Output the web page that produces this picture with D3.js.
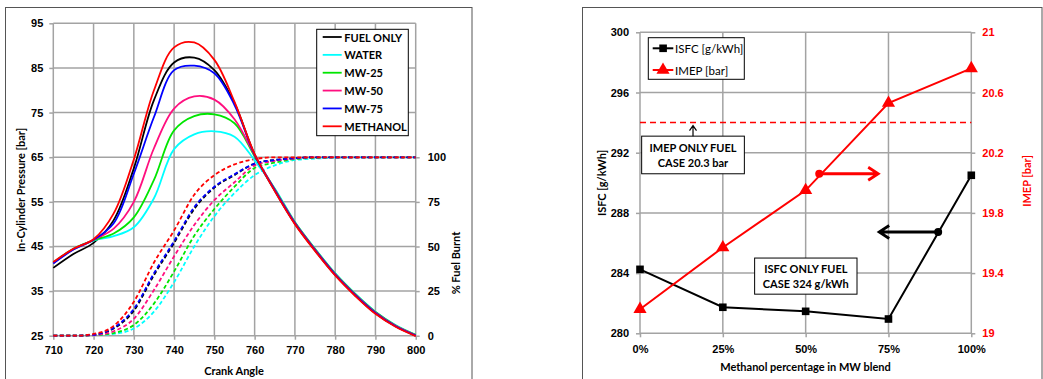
<!DOCTYPE html>
<html>
<head>
<meta charset="utf-8">
<script src="https://cdn.jsdelivr.net/npm/d3@7"></script>
<style>
  html, body { margin: 0; padding: 0; background: #fff; }
  svg { display: block; font-family: Lato, "Open Sans", sans-serif; }
  .tick text { font-size: 11px; font-weight: bold; }
</style>
</head>
<body>
<svg id="chart" width="1043" height="379"></svg>
<script>
// ---- Left chart data: pressure and burn fraction vs crank angle ----
const crankAngles = [710, 715, 720, 725, 730, 735, 740, 745, 750, 755, 760, 765, 770, 775, 780, 785, 790, 795, 800];

const pressureFuelOnly = [40.2, 43.3, 45.8, 50.9, 62.5, 77.8, 86.2, 87.3, 84.5, 77.1, 65.6, 57.5, 50.1, 44.1, 38.6, 34.0, 30.0, 27.1, 25.0];
const pressureWater    = [41.3, 44.4, 46.3, 47.3, 49.3, 55.8, 66.8, 70.1, 70.8, 69.6, 64.3, 58.0, 50.5, 44.5, 39.0, 34.4, 30.4, 27.4, 25.2];
const pressureMW25     = [41.4, 44.5, 46.4, 47.9, 51.5, 59.9, 71.0, 74.2, 74.6, 72.6, 65.2, 57.8, 50.4, 44.4, 38.9, 34.3, 30.3, 27.3, 25.2];
const pressureMW50     = [41.3, 44.4, 46.5, 49.0, 55.0, 67.0, 75.9, 78.6, 77.9, 73.5, 65.5, 57.7, 50.3, 44.3, 38.8, 34.2, 30.2, 27.2, 25.1];
const pressureMW75     = [41.2, 44.3, 46.5, 50.2, 61.3, 74.0, 84.5, 85.5, 83.8, 76.7, 65.5, 57.6, 50.2, 44.2, 38.7, 34.1, 30.1, 27.1, 25.0];
const pressureMethanol = [41.5, 44.5, 46.6, 52.4, 64.5, 80.0, 89.6, 90.7, 86.8, 77.4, 65.7, 57.4, 50.0, 44.0, 38.5, 33.9, 29.9, 27.0, 24.9];

const burnFuelOnly = [0, 0, 0.5, 4, 14, 34, 52, 71, 83, 90, 96.5, 98.5, 99.5, 100, 100, 100, 100, 100, 100];
const burnWater    = [0, 0, 0.3, 1, 4, 13.5, 30, 50, 67, 80, 90, 95.5, 98.5, 99.3, 99.7, 100, 100, 100, 100];
const burnMW25     = [0, 0, 0.3, 1.5, 6, 18, 36, 56, 71, 83.5, 94, 97, 99, 99.7, 100, 100, 100, 100, 100];
const burnMW50     = [0, 0, 0.3, 2.5, 9.5, 25.6, 44.5, 62, 76, 86, 95.5, 98, 99.3, 100, 100, 100, 100, 100, 100];
const burnMW75     = [0, 0, 0.5, 4.5, 15, 35, 53, 72, 83.5, 90.5, 96.5, 98.5, 99.5, 100, 100, 100, 100, 100, 100];
const burnMethanol = [0, 0, 1, 5.5, 19, 41, 59, 79, 90, 96, 99, 100, 100, 100, 100, 100, 100, 100, 100];

const seriesNames  = ["FUEL ONLY", "WATER", "MW-25", "MW-50", "MW-75", "METHANOL"];
const seriesColors = ["#000000", "#00ffff", "#00e600", "#ff0f7f", "#0000ff", "#ff0000"];
const pressureSeries = [pressureFuelOnly, pressureWater, pressureMW25, pressureMW50, pressureMW75, pressureMethanol];
const burnSeries     = [burnFuelOnly, burnWater, burnMW25, burnMW50, burnMW75, burnMethanol];

const crankTicks    = [710, 720, 730, 740, 750, 760, 770, 780, 790, 800];
const pressureTicks = [25, 35, 45, 55, 65, 75, 85, 95];
const burnTicks     = [0, 25, 50, 75, 100];

// ---- Right chart data: ISFC / IMEP vs methanol share ----
const blendPercent = [0, 25, 50, 75, 100];
const isfcValues   = [284.25, 281.73, 281.46, 280.95, 290.5];
const imepValues   = [19.16, 19.57, 19.95, 20.53, 20.76];
const imepFuelOnlyLine = 20.4;
const isfcTicks = [280, 284, 288, 292, 296, 300];
const imepTicks = [19, 19.4, 19.8, 20.2, 20.6, 21];

const svg = d3.select("#chart");
const gridColor = "#a3a3a3";

function DrawGrid(g, x, y, xTicks, yTicks) {
    g.selectAll("line.vg").data(xTicks).join("line")
        .attr("x1", d => x(d)).attr("x2", d => x(d))
        .attr("y1", y.range()[1]).attr("y2", y.range()[0])
        .attr("stroke", gridColor).attr("stroke-width", 1.5);
    g.selectAll("line.hg").data(yTicks).join("line")
        .attr("x1", x.range()[0]).attr("x2", x.range()[1])
        .attr("y1", d => y(d)).attr("y2", d => y(d))
        .attr("stroke", gridColor).attr("stroke-width", 1.5);
}

function StyleAxis(g, color) {
    g.select(".domain").remove();
    g.selectAll(".tick line").attr("stroke", gridColor).attr("stroke-width", 1.5);
    g.selectAll(".tick text").attr("fill", color || "#000");
}

function AxisTitle(x, y, text, rotate, color, size) {
    svg.append("text")
        .attr("transform", `translate(${x},${y})` + (rotate ? " rotate(-90)" : ""))
        .attr("text-anchor", "middle").attr("dominant-baseline", "central")
        .attr("font-size", size || 11).attr("font-weight", "bold")
        .attr("fill", color || "#000").text(text);
}

// ================= Left chart =================
function DrawLeft() {
    svg.append("rect").attr("x", 5.5).attr("y", 7.5).attr("width", 466.5).attr("height", 380)
        .attr("fill", "none").attr("stroke", "#555");

    const x = d3.scaleLinear().domain([710, 800]).range([53.3, 415.7]);
    const y = d3.scaleLinear().domain([25, 95]).range([335.7, 23.3]);
    const y2 = d3.scaleLinear().domain([0, 100]).range([335.7, 157.3]);

    DrawGrid(svg.append("g"), x, y, crankTicks, pressureTicks);

    StyleAxis(svg.append("g").attr("transform", "translate(53.3,0)")
        .call(d3.axisLeft(y).tickValues(pressureTicks).tickSize(4).tickPadding(6)));
    StyleAxis(svg.append("g").attr("transform", "translate(415.7,0)")
        .call(d3.axisRight(y2).tickValues(burnTicks).tickSize(4).tickPadding(8)));
    StyleAxis(svg.append("g").attr("transform", "translate(0,335.7)")
        .call(d3.axisBottom(x).tickValues(crankTicks).tickSize(4).tickPadding(7)));

    const burnLine = d3.line().x((d, i) => x(crankAngles[i])).y(d => y2(d)).curve(d3.curveMonotoneX);
    const pressLine = d3.line().x((d, i) => x(crankAngles[i])).y(d => y(d)).curve(d3.curveCatmullRom.alpha(0.5));

    // dashed burn fraction curves first, then pressure on top
    svg.append("g").selectAll("path").data(burnSeries).join("path")
        .attr("d", burnLine).attr("fill", "none")
        .attr("stroke", (d, i) => seriesColors[i]).attr("stroke-width", 1.8)
        .attr("stroke-dasharray", "4,2.5");
    svg.append("g").selectAll("path").data(pressureSeries).join("path")
        .attr("d", pressLine).attr("fill", "none")
        .attr("stroke", (d, i) => seriesColors[i]).attr("stroke-width", 1.8);

    AxisTitle(20, 190, "In-Cylinder Pressure [bar]", true);
    AxisTitle(455, 263, "% Fuel Burnt", true);
    AxisTitle(234, 370, "Crank Angle", false);

    // legend
    const lg = svg.append("g");
    lg.append("rect").attr("x", 316.7).attr("y", 29.3).attr("width", 91.6).attr("height", 106.4)
        .attr("fill", "#fff").attr("stroke", "#000").attr("stroke-width", 1);
    const item = lg.selectAll("g").data(seriesNames).join("g")
        .attr("transform", (d, i) => `translate(0,${37 + i * 17.86})`);
    item.append("line").attr("x1", 322.7).attr("x2", 341.7)
        .attr("stroke", (d, i) => seriesColors[i]).attr("stroke-width", 1.8);
    item.append("text").attr("x", 344.3).attr("dominant-baseline", "central")
        .attr("font-size", 11).attr("font-weight", "bold").text(d => d);
}

// ================= Right chart =================
function DrawRight() {
    svg.append("rect").attr("x", 582.5).attr("y", 7.5).attr("width", 459.5).attr("height", 380)
        .attr("fill", "none").attr("stroke", "#555");

    const x = d3.scaleLinear().domain([0, 100]).range([640, 971.3]);
    const y = d3.scaleLinear().domain([280, 300]).range([333.3, 32.3]);
    const y2 = d3.scaleLinear().domain([19, 21]).range([333.3, 32.3]);

    DrawGrid(svg.append("g"), x, y, blendPercent, isfcTicks);

    StyleAxis(svg.append("g").attr("transform", "translate(640,0)")
        .call(d3.axisLeft(y).tickValues(isfcTicks).tickSize(4).tickPadding(7)));
    StyleAxis(svg.append("g").attr("transform", "translate(971.3,0)")
        .call(d3.axisRight(y2).tickValues(imepTicks).tickFormat(d => String(+d.toFixed(1)))
            .tickSize(4).tickPadding(7)), "#ff0000");
    StyleAxis(svg.append("g").attr("transform", "translate(0,333.3)")
        .call(d3.axisBottom(x).tickValues(blendPercent).tickFormat(d => d + "%").tickSize(4).tickPadding(8)));

    // reference line for fuel-only IMEP
    svg.append("line").attr("x1", x(0)).attr("x2", x(100))
        .attr("y1", y2(imepFuelOnlyLine)).attr("y2", y2(imepFuelOnlyLine))
        .attr("stroke", "#ff0000").attr("stroke-width", 1.5).attr("stroke-dasharray", "6,4");

    // ISFC line + squares
    svg.append("path").datum(isfcValues)
        .attr("d", d3.line().x((d, i) => x(blendPercent[i])).y(d => y(d)))
        .attr("fill", "none").attr("stroke", "#000").attr("stroke-width", 2);
    svg.append("g").selectAll("rect").data(isfcValues).join("rect")
        .attr("x", (d, i) => x(blendPercent[i]) - 3.8).attr("y", d => y(d) - 3.8)
        .attr("width", 7.6).attr("height", 7.6).attr("fill", "#000");

    // IMEP line + triangles
    const tri = d3.symbol().type(d3.symbolTriangle).size(75);
    svg.append("path").datum(imepValues)
        .attr("d", d3.line().x((d, i) => x(blendPercent[i])).y(d => y2(d)))
        .attr("fill", "none").attr("stroke", "#ff0000").attr("stroke-width", 2);
    svg.append("g").selectAll("path").data(imepValues).join("path")
        .attr("transform", (d, i) => `translate(${x(blendPercent[i])},${y2(d)})`)
        .attr("d", tri).attr("fill", "#ff0000");

    // arrows pointing to the axis each curve belongs to
    DrawArrow(x(54.1), y2(20.06), x(71.9), "#ff0000");
    DrawArrow(x(90.0), y(286.73), x(72.2), "#000");

    // annotation boxes
    NoteBox(x(0.5), y(293.1), x(31.5), y(290.6), ["IMEP ONLY FUEL", "CASE 20.3 bar"]);
    NoteBox(x(34.6), y(285.0), x(65.5), y(282.6), ["ISFC ONLY FUEL", "CASE 324 g/kWh"]);
    // small pointer from first box to the dashed line
    const px = x(16.0), top = y2(imepFuelOnlyLine) + 3, bot = y(293.1);
    svg.append("path").attr("d", `M${px},${bot}V${top}M${px - 3.5},${top + 5}L${px},${top}L${px + 3.5},${top + 5}`)
        .attr("fill", "none").attr("stroke", "#000").attr("stroke-width", 1.2);

    AxisTitle(601.7, 183, "ISFC [g/kWh]", true);
    AxisTitle(1026, 181, "IMEP [bar]", true, "#ff0000");
    AxisTitle(805.5, 366, "Methanol percentage in MW blend", false);

    // legend
    const lg = svg.append("g");
    lg.append("rect").attr("x", 648.3).attr("y", 37.7).attr("width", 96).attr("height", 41.6)
        .attr("fill", "#fff").attr("stroke", "#000");
    lg.append("line").attr("x1", 652.7).attr("x2", 673.3).attr("y1", 48.3).attr("y2", 48.3)
        .attr("stroke", "#000").attr("stroke-width", 2);
    lg.append("rect").attr("x", 659.3).attr("y", 44.5).attr("width", 7.6).attr("height", 7.6);
    lg.append("line").attr("x1", 652.7).attr("x2", 673.3).attr("y1", 70).attr("y2", 70)
        .attr("stroke", "#ff0000").attr("stroke-width", 2);
    lg.append("path").attr("transform", "translate(663,70)").attr("d", tri).attr("fill", "#ff0000");
    lg.append("text").attr("x", 675).attr("y", 48.3).attr("dominant-baseline", "central")
        .attr("font-size", 11.5).text("ISFC [g/kWh]");
    lg.append("text").attr("x", 675).attr("y", 70).attr("dominant-baseline", "central")
        .attr("font-size", 11.5).text("IMEP [bar]");
}

function DrawArrow(x1, yy, x2, color) {
    const dir = x2 > x1 ? 1 : -1;
    svg.append("circle").attr("cx", x1).attr("cy", yy).attr("r", 4).attr("fill", color);
    svg.append("path")
        .attr("d", `M${x1},${yy}H${x2}M${x2 - dir * 10},${yy - 6.5}L${x2},${yy}L${x2 - dir * 10},${yy + 6.5}`)
        .attr("fill", "none").attr("stroke", color).attr("stroke-width", 2.8);
}

function NoteBox(x1, y1, x2, y2, lines) {
    svg.append("rect").attr("x", x1).attr("y", y1).attr("width", x2 - x1).attr("height", y2 - y1)
        .attr("fill", "#fff").attr("stroke", "#000").attr("stroke-width", 1);
    const h = y2 - y1;
    svg.append("g").selectAll("text").data(lines).join("text")
        .attr("x", (x1 + x2) / 2).attr("y", (d, i) => y1 + h * (0.3 + i * 0.4))
        .attr("text-anchor", "middle").attr("dominant-baseline", "central")
        .attr("font-size", 11).attr("font-weight", "bold").text(d => d);
}

DrawLeft();
DrawRight();
</script>
</body>
</html>
